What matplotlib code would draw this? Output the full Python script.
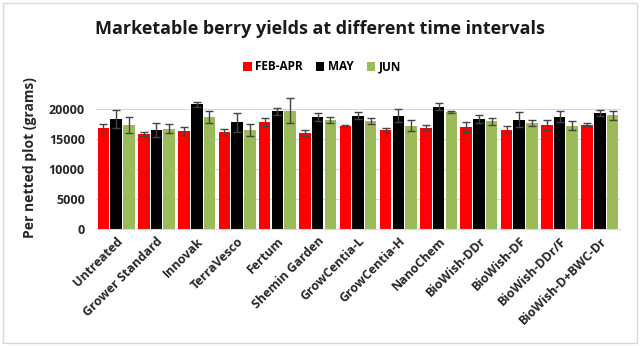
import matplotlib
matplotlib.use("Agg")
import matplotlib.pyplot as plt
from matplotlib.patches import Rectangle
import numpy as np

plt.rcParams['font.family'] = ['Open Sans', 'DejaVu Sans']

categories = ['Untreated', 'Grower Standard', 'Innovak', 'TerraVesco', 'Fertum',
              'Shemin Garden', 'GrowCentia-L', 'GrowCentia-H', 'NanoChem',
              'BioWish-DDr', 'BioWish-DF', 'BioWish-DDr/F', 'BioWish-D+BWC-Dr']
series = ['FEB-APR', 'MAY', 'JUN']

feb_apr = [16770, 15830, 16380, 16160, 17880, 16050, 17220, 16440, 16880, 17000, 16550, 17330, 17380]
feb_apr_err = [700, 400, 700, 550, 650, 500, 150, 400, 400, 770, 550, 770, 250]
may = [18380, 16550, 20770, 17770, 19600, 18600, 18880, 18880, 20380, 18330, 18220, 18720, 19380]
may_err = [1500, 1200, 450, 1600, 600, 670, 570, 1100, 550, 650, 1200, 900, 500]
jun = [17330, 16720, 18720, 16500, 19720, 18160, 17940, 17220, 19500, 17940, 17720, 17220, 18940]
jun_err = [1270, 700, 1000, 1000, 2050, 450, 500, 900, 100, 600, 500, 700, 720]

colors = ['#ff0000', '#000000', '#9bbb59']

fig = plt.figure(figsize=(6.4, 3.46), dpi=100)
ax = fig.add_axes([96 / 640, 1 - 229 / 346, 524 / 640, (229 - 94) / 346])

x = np.arange(len(categories))
step = 0.315
width = 0.285
for i, (vals, errs) in enumerate([(feb_apr, feb_apr_err), (may, may_err), (jun, jun_err)]):
    ax.bar(x + (i - 1) * step, vals, width, color=colors[i], label=series[i], zorder=2,
           yerr=errs, error_kw=dict(ecolor='#444444', elinewidth=1, capsize=3, capthick=1))

ax.set_xlim(-0.5, len(categories) - 0.5)
ax.set_ylim(0, 22500)
ax.set_yticks([0, 5000, 10000, 15000, 20000])
ax.yaxis.grid(True, color='#d9d9d9', linewidth=0.8, zorder=0)
ax.set_axisbelow(True)
for s in ['top', 'right', 'left']:
    ax.spines[s].set_visible(False)
ax.spines['bottom'].set_color('#d9d9d9')
ax.tick_params(length=0)
ax.set_xticks(x)
ax.set_xticklabels(categories, rotation=45, ha='right', rotation_mode='anchor',
                   fontsize=9, fontweight='bold', color='#262626')
for lab in ax.get_yticklabels():
    lab.set_fontsize(9)
    lab.set_fontweight('bold')
    lab.set_color('#262626')
ax.tick_params(axis='y', pad=8)
ax.tick_params(axis='x', pad=4)

fig.text(30 / 640, 1 - 158 / 346, 'Per netted plot (grams)', rotation=90, ha='center', va='center',
         fontsize=10, fontweight='bold', color='#262626')
fig.text(0.5, 1 - 29 / 346, 'Marketable berry yields at different time intervals',
         ha='center', va='center', fontsize=13, fontweight='bold', color='#1a1a1a')

leg = ax.legend(loc='center', bbox_to_anchor=(322 / 640, 1 - 67 / 346), bbox_transform=fig.transFigure,
                ncol=3, frameon=False, handlelength=0.7, handleheight=0.7, handletextpad=0.3,
                columnspacing=1.1, prop={'size': 8.5, 'weight': 'bold'})

fig.patches.append(Rectangle((3 / 640, 3 / 346), 634 / 640, 340 / 346, transform=fig.transFigure,
                             fill=False, edgecolor='#d9d9d9', linewidth=1))

fig.savefig('out.png', dpi=100, facecolor='white')
